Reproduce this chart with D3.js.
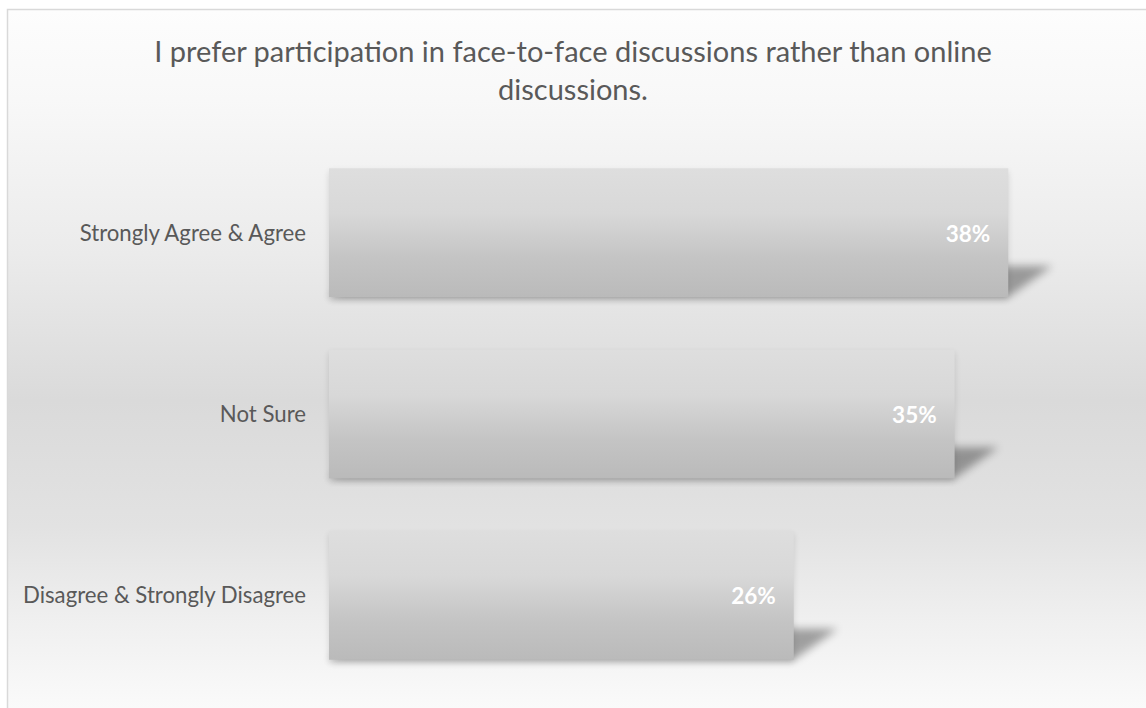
<!DOCTYPE html>
<html>
<head>
<meta charset="utf-8">
<script src="https://cdn.jsdelivr.net/npm/d3@7/dist/d3.min.js"></script>
<style>
  html, body { margin: 0; padding: 0; background: #ffffff; }
  svg { display: block; }
</style>
</head>
<body>
<svg id="chart" width="1146" height="708"></svg>
<script>
// Survey responses
const categories = ["Strongly Agree & Agree", "Not Sure", "Disagree & Strongly Disagree"];
const values = [38, 35, 26];
const valueLabels = ["38%", "35%", "26%"];
const titleLines = ["I prefer participation in face-to-face discussions rather than online", "discussions."];

const W = 1146, H = 708;
const font = "Lato, 'Open Sans', sans-serif";
const svg = d3.select("#chart");
const defs = svg.append("defs");

// Chart area background: light vertical gradient
const bg = defs.append("linearGradient").attr("id", "bgGrad")
  .attr("gradientUnits", "userSpaceOnUse").attr("x1", 0).attr("y1", 9).attr("x2", 0).attr("y2", 708);
[[0, "#fdfdfd"], [0.13, "#f8f8f8"], [0.35, "#ebebeb"], [0.56, "#dadada"], [0.74, "#e2e2e2"], [0.87, "#efefef"], [1, "#fafafa"]]
  .forEach(([o, c]) => bg.append("stop").attr("offset", o).attr("stop-color", c));

// Bar fill gradient
const barGrad = defs.append("linearGradient").attr("id", "barGrad")
  .attr("x1", 0).attr("y1", 0).attr("x2", 0).attr("y2", 1);
[[0, "#dedede"], [0.35, "#d8d8d8"], [0.7, "#c4c4c4"], [1, "#bababa"]]
  .forEach(([o, c]) => barGrad.append("stop").attr("offset", o).attr("stop-color", c));

defs.append("filter").attr("id", "blurShadow").attr("x", "-50%").attr("y", "-50%").attr("width", "200%").attr("height", "200%")
  .append("feGaussianBlur").attr("stdDeviation", 4.5);
defs.append("filter").attr("id", "softShadow").attr("x", "-10%").attr("y", "-20%").attr("width", "120%").attr("height", "140%")
  .append("feGaussianBlur").attr("stdDeviation", 3);

// Frame
svg.append("rect")
  .attr("x", 7.5).attr("y", 9.5).attr("width", W + 10).attr("height", H + 10)
  .attr("fill", "url(#bgGrad)").attr("stroke", "#d9d9d9").attr("stroke-width", 1.5);

// Title
const title = svg.append("text")
  .attr("x", 573).attr("y", 62)
  .attr("text-anchor", "middle")
  .attr("font-family", font).attr("font-size", 29).attr("fill", "#595959");
titleLines.forEach((t, i) => title.append("tspan").attr("x", 573).attr("dy", i === 0 ? 0 : 38).text(t));

// Scales
const x = d3.scaleLinear().domain([0, 40]).range([329, 1044]);
const y = d3.scaleBand().domain(categories).range([142, 686]).paddingInner(0.29).paddingOuter(0.145);

const data = categories.map((c, i) => ({ cat: c, v: values[i], label: valueLabels[i] }));

// Perspective shadows cast to upper right of each bar end
const shDx = 44, shDy = 31;
svg.append("g").selectAll("path").data(data).join("path")
  .attr("d", d => {
    const b = y(d.cat) + y.bandwidth();
    return `M${x(0)},${b} L${x(d.v)},${b} L${x(d.v) + shDx},${b - shDy} L${x(0) + shDx},${b - shDy} Z`;
  })
  .attr("fill", "#000").attr("opacity", 0.34).attr("filter", "url(#blurShadow)");

// Soft shadow under bars
svg.append("g").selectAll("rect").data(data).join("rect")
  .attr("x", x(0)).attr("y", d => y(d.cat) + 3)
  .attr("width", d => x(d.v) - x(0)).attr("height", y.bandwidth())
  .attr("fill", "#000").attr("opacity", 0.12).attr("filter", "url(#softShadow)");

// Bars
svg.append("g").selectAll("rect").data(data).join("rect")
  .attr("x", x(0)).attr("y", d => y(d.cat))
  .attr("width", d => x(d.v) - x(0)).attr("height", y.bandwidth())
  .attr("fill", "url(#barGrad)");

// Category axis
const axis = svg.append("g").attr("transform", `translate(${x(0)},0)`)
  .call(d3.axisLeft(y).tickSize(0).tickPadding(23));
axis.select(".domain").remove();
axis.selectAll("text")
  .attr("font-family", font).attr("font-size", 22.2).attr("fill", "#595959")
  .attr("dy", "0.36em");

// Value labels
svg.append("g").selectAll("text").data(data).join("text")
  .attr("x", d => x(d.v) - 18)
  .attr("y", d => y(d.cat) + y.bandwidth() / 2 + 1)
  .attr("dy", "0.36em")
  .attr("text-anchor", "end")
  .attr("font-family", font).attr("font-size", 22.5).attr("font-weight", "bold")
  .attr("fill", "#ffffff")
  .text(d => d.label);
</script>
</body>
</html>
